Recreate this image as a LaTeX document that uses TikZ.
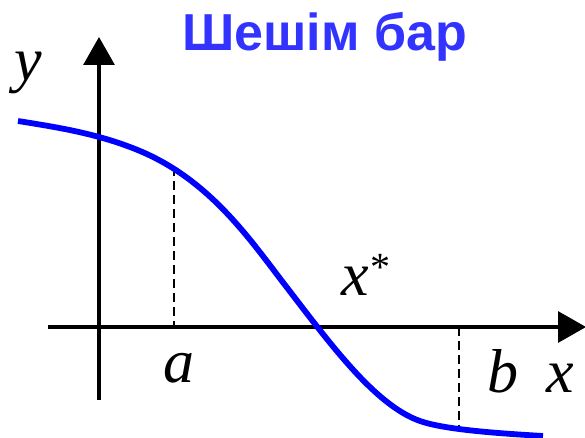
\documentclass[tikz,border=0pt]{standalone}
\usepackage{fontspec}
\setmainfont{Liberation Serif}
\newfontfamily\titlefont{Liberation Sans}
\usetikzlibrary{arrows.meta}
\definecolor{titleblue}{RGB}{51,51,255}
\definecolor{curveblue}{RGB}{0,0,255}
\tikzset{
  axis/.style={line width=3.2pt,-{Triangle[length=28pt,width=31pt]}},
  guide/.style={line width=2.8pt,dash pattern=on 9pt off 5pt},
  lbl/.style={inner sep=0pt,anchor=base west,font=\fontsize{62}{62}\selectfont\itshape},
  curve/.style={line width=5.8pt,curveblue},
}
\begin{document}
\begin{tikzpicture}[x=1pt,y=-1pt]
\useasboundingbox (0,0) rectangle (585,438);
% axes
\coordinate (yb) at (99,400);
\coordinate (yt) at (99,37);
\coordinate (xl) at (48,327);
\coordinate (xr) at (586,327);
\draw[axis] (yb) -- (yt);
\draw[axis] (xl) -- (xr);
% guides
\coordinate (ca) at (174,167);
\coordinate (aa) at (174,327);
\coordinate (ab) at (459,327);
\coordinate (cb) at (459,428);
\draw[guide] (ca) -- (aa);
\draw[guide] (ab) -- (cb);
% curve
\draw[curve] (18,121) .. controls (58.67,127.5) and (99.33,133.9) .. (140,151)
  .. controls (210,180.4) and (250,239.5) .. (285,285)
  .. controls (330,343.5) and (375,405.3) .. (420,421)
  .. controls (445,429.75) and (498,433.3) .. (543,436);
% labels
\node[lbl] (ly) at (14,81) {y};
\node[lbl] (la) at (163,382) {a};
\node[lbl] (lb) at (487,392) {b};
\node[lbl] (lx) at (546,392) {x};
\node[lbl] (lxs) at (341,295) {x\hspace{2pt}\raisebox{15pt}{\upshape\fontsize{40}{40}\selectfont *}};
\node[inner sep=0pt,anchor=base west,font=\titlefont\bfseries\fontsize{52}{52}\selectfont,text=titleblue] (title) at (182,51) {Шешім бар};
\end{tikzpicture}
\end{document}
